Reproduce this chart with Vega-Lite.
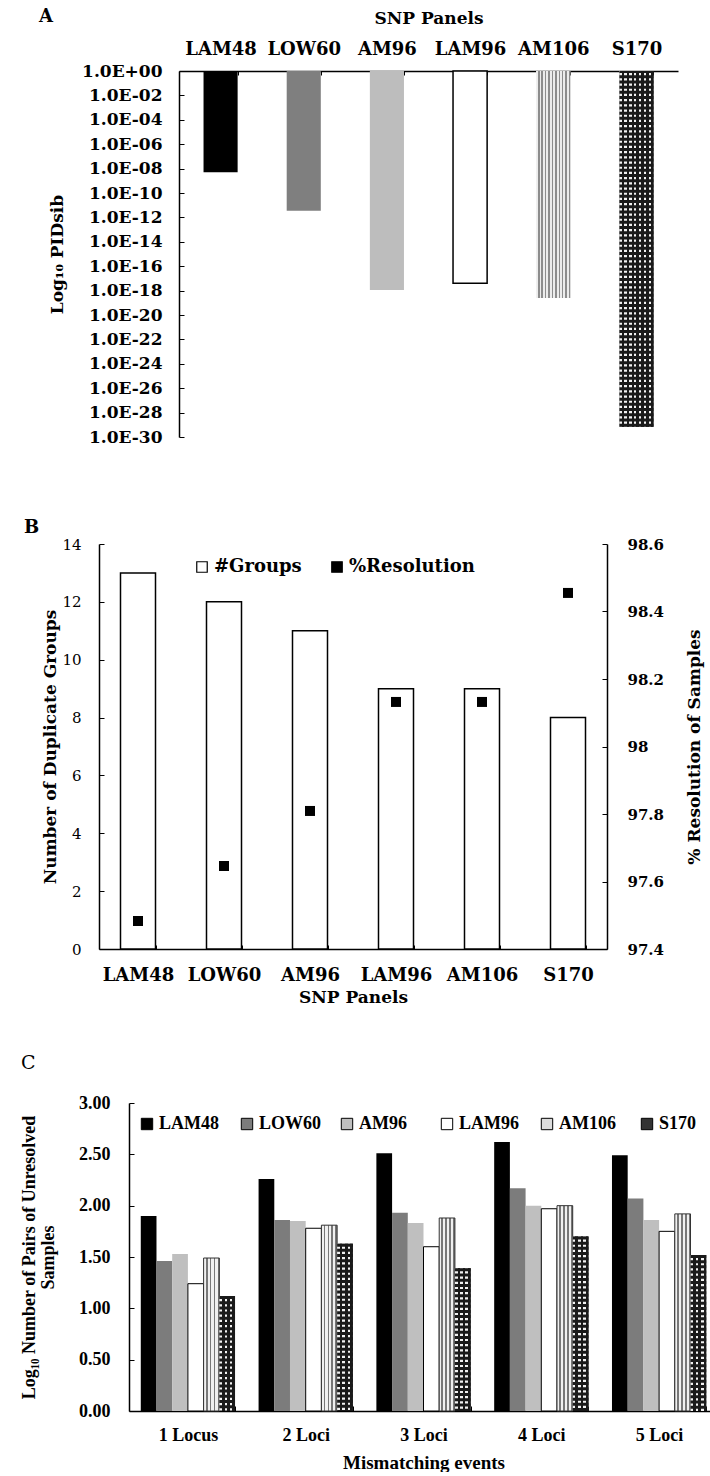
{
  "$schema": "https://vega.github.io/schema/vega-lite/v6.json",
  "padding": {"left": 20, "top": 8, "right": 0, "bottom": 0},
  "background": "white",
  "config": {
    "view": {"stroke": null},
    "axis": {"labelColor": "black", "titleColor": "black", "domainColor": "black", "tickColor": "black", "grid": false}
  },
  "spacing": 74,
  "resolve": {"scale": {"color": "independent"}, "legend": {"color": "independent"}},
  "vconcat": [
    {
      "width": 499,
      "height": 366,
      "title": {"text": "A", "anchor": "start", "frame": "group", "dx": -140, "dy": 17, "offset": 0, "font": "DejaVu Serif", "fontSize": 18, "fontWeight": "bold", "color": "black"},
      "data": {"values": [
        {"panel": "LAM48", "log10_pid": -8.3},
        {"panel": "LOW60", "log10_pid": -11.45},
        {"panel": "AM96", "log10_pid": -17.95},
        {"panel": "LAM96", "log10_pid": -17.4},
        {"panel": "AM106", "log10_pid": -18.6},
        {"panel": "S170", "log10_pid": -29.15}
      ]},
      "encoding": {
        "x": {
          "field": "panel", "type": "nominal",
          "scale": {"domain": ["LAM48", "LOW60", "AM96", "LAM96", "AM106", "S170"], "paddingInner": 0.59, "paddingOuter": 0.295},
          "axis": {"orient": "top", "title": "SNP Panels", "labelAngle": 0, "labelFont": "DejaVu Serif", "labelFontSize": 18, "labelFontWeight": "bold", "labelPadding": 17, "titleFont": "DejaVu Serif", "titleFontSize": 17, "titleFontWeight": "bold", "titlePadding": 13, "domainWidth": 1.5, "tickBand": "extent", "tickSize": -4, "tickWidth": 1}
        },
        "y": {
          "field": "log10_pid", "type": "quantitative",
          "scale": {"domain": [-30, 0], "nice": false},
          "axis": {"title": "Log₁₀ PIDsib", "values": [0, -2, -4, -6, -8, -10, -12, -14, -16, -18, -20, -22, -24, -26, -28, -30],
            "labelExpr": "datum.value == 0 ? '1.0E+00' : '1.0E-' + (datum.value > -10 ? '0' : '') + (-datum.value)",
            "labelFont": "DejaVu Serif", "labelFontSize": 17, "labelFontWeight": "bold", "labelPadding": 22, "tickSize": -5, "domainWidth": 1.5,
            "titleFont": "DejaVu Serif", "titleFontSize": 17, "titleFontWeight": "bold", "titlePadding": 15}
        },
        "y2": {"datum": 0}
      },
      "layer": [
        {"mark": {"type": "bar"},
         "encoding": {"color": {"field": "panel", "type": "nominal", "scale": {"domain": ["LAM48", "LOW60", "AM96", "LAM96", "AM106", "S170"], "range": ["#000000", "#7f7f7f", "#bdbdbd", "#ffffff", "#ffffff", "#333333"]}, "legend": null}}},
        {"transform": [{"filter": "datum.panel === 'LAM96'"}],
         "mark": {"type": "bar", "fill": "white", "stroke": "black", "strokeWidth": 1.5}},
        {"transform": [{"filter": "datum.panel === 'AM106'"}],
         "mark": {"type": "bar", "fill": {"gradient": "linear", "x1": 0, "y1": 0, "x2": 1, "y2": 0, "stops": [
           {"offset": 0, "color": "#ececec"}, {"offset": 0.055, "color": "#ececec"}, {"offset": 0.055, "color": "#8c8c8c"}, {"offset": 0.1, "color": "#8c8c8c"},
           {"offset": 0.1, "color": "#ececec"}, {"offset": 0.155, "color": "#ececec"}, {"offset": 0.155, "color": "#8c8c8c"}, {"offset": 0.2, "color": "#8c8c8c"},
           {"offset": 0.2, "color": "#ececec"}, {"offset": 0.255, "color": "#ececec"}, {"offset": 0.255, "color": "#8c8c8c"}, {"offset": 0.3, "color": "#8c8c8c"},
           {"offset": 0.3, "color": "#ececec"}, {"offset": 0.355, "color": "#ececec"}, {"offset": 0.355, "color": "#8c8c8c"}, {"offset": 0.4, "color": "#8c8c8c"},
           {"offset": 0.4, "color": "#ececec"}, {"offset": 0.455, "color": "#ececec"}, {"offset": 0.455, "color": "#8c8c8c"}, {"offset": 0.5, "color": "#8c8c8c"},
           {"offset": 0.5, "color": "#ececec"}, {"offset": 0.555, "color": "#ececec"}, {"offset": 0.555, "color": "#8c8c8c"}, {"offset": 0.6, "color": "#8c8c8c"},
           {"offset": 0.6, "color": "#ececec"}, {"offset": 0.655, "color": "#ececec"}, {"offset": 0.655, "color": "#8c8c8c"}, {"offset": 0.7, "color": "#8c8c8c"},
           {"offset": 0.7, "color": "#ececec"}, {"offset": 0.755, "color": "#ececec"}, {"offset": 0.755, "color": "#8c8c8c"}, {"offset": 0.8, "color": "#8c8c8c"},
           {"offset": 0.8, "color": "#ececec"}, {"offset": 0.855, "color": "#ececec"}, {"offset": 0.855, "color": "#8c8c8c"}, {"offset": 0.9, "color": "#8c8c8c"},
           {"offset": 0.9, "color": "#ececec"}, {"offset": 0.955, "color": "#ececec"}, {"offset": 0.955, "color": "#8c8c8c"}, {"offset": 1, "color": "#8c8c8c"}
         ]}}},
        {"transform": [{"filter": "datum.panel === 'S170'"}],
         "mark": {"type": "bar", "fill": {"gradient": "linear", "x1": 0, "y1": 0, "x2": 1, "y2": 0, "stops": [
           {"offset": 0, "color": "#f2f2f2"}, {"offset": 0.0714, "color": "#f2f2f2"}, {"offset": 0.0714, "color": "#1a1a1a"}, {"offset": 0.1429, "color": "#1a1a1a"},
           {"offset": 0.1429, "color": "#f2f2f2"}, {"offset": 0.2143, "color": "#f2f2f2"}, {"offset": 0.2143, "color": "#1a1a1a"}, {"offset": 0.2857, "color": "#1a1a1a"},
           {"offset": 0.2857, "color": "#f2f2f2"}, {"offset": 0.3571, "color": "#f2f2f2"}, {"offset": 0.3571, "color": "#1a1a1a"}, {"offset": 0.4286, "color": "#1a1a1a"},
           {"offset": 0.4286, "color": "#f2f2f2"}, {"offset": 0.5, "color": "#f2f2f2"}, {"offset": 0.5, "color": "#1a1a1a"}, {"offset": 0.5714, "color": "#1a1a1a"},
           {"offset": 0.5714, "color": "#f2f2f2"}, {"offset": 0.6429, "color": "#f2f2f2"}, {"offset": 0.6429, "color": "#1a1a1a"}, {"offset": 0.7143, "color": "#1a1a1a"},
           {"offset": 0.7143, "color": "#f2f2f2"}, {"offset": 0.7857, "color": "#f2f2f2"}, {"offset": 0.7857, "color": "#1a1a1a"}, {"offset": 0.8571, "color": "#1a1a1a"},
           {"offset": 0.8571, "color": "#f2f2f2"}, {"offset": 0.9286, "color": "#f2f2f2"}, {"offset": 0.9286, "color": "#1a1a1a"}, {"offset": 1, "color": "#1a1a1a"}
         ]}}},
        {"transform": [{"filter": "datum.panel === 'S170'"}],
         "mark": {"type": "rule", "strokeWidth": 34, "strokeDash": [3, 2.2], "strokeCap": "butt", "color": "#1a1a1a"}}
      ]
    },
    {
      "spacing": 49,
      "resolve": {"scale": {"color": "independent"}, "legend": {"color": "independent"}},
      "vconcat": [
        {
          "width": 428,
          "height": 405,
          "title": {"text": "B", "anchor": "start", "frame": "group", "dx": -155, "offset": 0, "font": "DejaVu Serif", "fontSize": 18, "fontWeight": "bold", "color": "black"},
          "data": {"values": [
            {"panel": "LAM48", "groups": 13, "resolution": 97.483},
            {"panel": "LOW60", "groups": 12, "resolution": 97.646},
            {"panel": "AM96", "groups": 11, "resolution": 97.809},
            {"panel": "LAM96", "groups": 9, "resolution": 98.132},
            {"panel": "AM106", "groups": 9, "resolution": 98.132},
            {"panel": "S170", "groups": 8, "resolution": 98.455}
          ]},
          "encoding": {
            "x": {
              "field": "panel", "type": "nominal",
              "scale": {"domain": ["LAM48", "LOW60", "AM96", "LAM96", "AM106", "S170"], "range": [-80, 428], "paddingInner": 0.593, "paddingOuter": 0.25},
              "axis": {"title": "SNP Panels", "labelAngle": 0, "labelFont": "DejaVu Serif", "labelFontSize": 18, "labelFontWeight": "bold", "labelPadding": 21, "titleFont": "DejaVu Serif", "titleFontSize": 17, "titleFontWeight": "bold", "titlePadding": 5, "domainWidth": 1.5, "tickBand": "extent", "tickSize": -4}
            }
          },
          "layer": [
            {"mark": {"type": "bar", "stroke": "black", "strokeWidth": 1.5},
             "encoding": {
               "y": {"field": "groups", "type": "quantitative", "scale": {"domain": [0, 14], "nice": false},
                 "axis": {"title": "Number of Duplicate Groups", "offset": 80, "values": [0, 2, 4, 6, 8, 10, 12, 14], "labelFont": "DejaVu Serif", "labelFontSize": 15, "labelFontWeight": "normal", "labelPadding": 23, "tickSize": -5, "domainWidth": 1.5, "titleFont": "DejaVu Serif", "titleFontSize": 17, "titleFontWeight": "bold", "titlePadding": 2}},
               "color": {"datum": "#Groups", "type": "nominal",
                 "scale": {"domain": ["#Groups", "%Resolution"], "range": ["#ffffff", "#000000"]},
                 "legend": {"orient": "none", "legendX": 14, "legendY": 14, "direction": "horizontal", "title": null, "symbolType": "square", "symbolSize": 110, "symbolStrokeColor": "black", "symbolStrokeWidth": 1.2, "symbolOpacity": 1, "labelFont": "DejaVu Serif", "labelFontSize": 18, "labelFontWeight": "bold", "labelColor": "black", "labelOffset": 3, "columnPadding": 26}}
             }},
            {"mark": {"type": "point", "shape": "square", "filled": true, "size": 100, "opacity": 1},
             "encoding": {
               "y": {"field": "resolution", "type": "quantitative", "scale": {"domain": [97.4, 98.6], "nice": false, "zero": false},
                 "axis": {"orient": "right", "title": "% Resolution of Samples", "values": [97.4, 97.6, 97.8, 98, 98.2, 98.4, 98.6], "format": "~g", "labelFont": "DejaVu Serif", "labelFontSize": 15, "labelFontWeight": "bold", "labelPadding": 25, "tickSize": -5, "domainWidth": 1.5, "titleFont": "DejaVu Serif", "titleFontSize": 17, "titleFontWeight": "bold", "titlePadding": 40, "titleAngle": 270}},
               "color": {"datum": "%Resolution", "type": "nominal"}
             }}
          ],
          "resolve": {"scale": {"y": "independent"}}
        },
        {
          "width": 539,
          "height": 308,
          "title": {"text": "C", "anchor": "start", "frame": "group", "dx": -158, "offset": 21, "font": "DejaVu Serif", "fontSize": 19, "fontWeight": "normal", "color": "black"},
          "data": {"values": [
            {"event": "1 Locus", "panel": "LAM48", "value": 1.90},
            {"event": "1 Locus", "panel": "LOW60", "value": 1.46},
            {"event": "1 Locus", "panel": "AM96", "value": 1.53},
            {"event": "1 Locus", "panel": "LAM96", "value": 1.24},
            {"event": "1 Locus", "panel": "AM106", "value": 1.49},
            {"event": "1 Locus", "panel": "S170", "value": 1.12},
            {"event": "2 Loci", "panel": "LAM48", "value": 2.26},
            {"event": "2 Loci", "panel": "LOW60", "value": 1.86},
            {"event": "2 Loci", "panel": "AM96", "value": 1.85},
            {"event": "2 Loci", "panel": "LAM96", "value": 1.78},
            {"event": "2 Loci", "panel": "AM106", "value": 1.81},
            {"event": "2 Loci", "panel": "S170", "value": 1.63},
            {"event": "3 Loci", "panel": "LAM48", "value": 2.51},
            {"event": "3 Loci", "panel": "LOW60", "value": 1.93},
            {"event": "3 Loci", "panel": "AM96", "value": 1.83},
            {"event": "3 Loci", "panel": "LAM96", "value": 1.60},
            {"event": "3 Loci", "panel": "AM106", "value": 1.88},
            {"event": "3 Loci", "panel": "S170", "value": 1.39},
            {"event": "4 Loci", "panel": "LAM48", "value": 2.62},
            {"event": "4 Loci", "panel": "LOW60", "value": 2.17},
            {"event": "4 Loci", "panel": "AM96", "value": 2.00},
            {"event": "4 Loci", "panel": "LAM96", "value": 1.97},
            {"event": "4 Loci", "panel": "AM106", "value": 2.00},
            {"event": "4 Loci", "panel": "S170", "value": 1.70},
            {"event": "5 Loci", "panel": "LAM48", "value": 2.49},
            {"event": "5 Loci", "panel": "LOW60", "value": 2.07},
            {"event": "5 Loci", "panel": "AM96", "value": 1.86},
            {"event": "5 Loci", "panel": "LAM96", "value": 1.75},
            {"event": "5 Loci", "panel": "AM106", "value": 1.92},
            {"event": "5 Loci", "panel": "S170", "value": 1.52}
          ]},
          "encoding": {
            "x": {
              "field": "event", "type": "nominal",
              "scale": {"domain": ["1 Locus", "2 Loci", "3 Loci", "4 Loci", "5 Loci"], "range": [-50, 539], "paddingInner": 0.2, "paddingOuter": 0.1},
              "axis": {"title": "Mismatching events", "labelAngle": 0, "labelFont": "Liberation Serif", "labelFontSize": 18, "labelFontWeight": "bold", "labelPadding": 20, "titleFont": "Liberation Serif", "titleFontSize": 19, "titleFontWeight": "bold", "titlePadding": 9, "domainWidth": 1.5, "tickBand": "extent", "tickSize": -5}
            },
            "xOffset": {"field": "panel", "type": "nominal", "scale": {"domain": ["LAM48", "LOW60", "AM96", "LAM96", "AM106", "S170"], "paddingInner": 0, "paddingOuter": 0}},
            "y": {
              "field": "value", "type": "quantitative",
              "scale": {"domain": [0, 3], "nice": false},
              "axis": {"title": ["Log₁₀ Number of Pairs of Unresolved", "Samples"], "offset": 50, "values": [0, 0.5, 1, 1.5, 2, 2.5, 3], "format": ".2f", "labelFont": "Liberation Serif", "labelFontSize": 18, "labelFontWeight": "bold", "labelPadding": 24, "tickSize": -5, "domainWidth": 1.5, "titleFont": "Liberation Serif", "titleFontSize": 18, "titleFontWeight": "bold", "titleLineHeight": 19, "titlePadding": 21}
            }
          },
          "layer": [
            {"mark": {"type": "bar"},
             "encoding": {"color": {"field": "panel", "type": "nominal",
               "scale": {"domain": ["LAM48", "LOW60", "AM96", "LAM96", "AM106", "S170"], "range": ["#000000", "#7c7c7c", "#bfbfbf", "#ffffff", "#dcdcdc", "#333333"]},
               "legend": {"orient": "none", "legendX": -41, "legendY": 12, "direction": "horizontal", "columns": 6, "gridAlign": "all", "title": null, "symbolType": "square", "symbolSize": 130, "symbolStrokeColor": "black", "symbolStrokeWidth": 1, "symbolOpacity": 1, "labelFont": "Liberation Serif", "labelFontSize": 18, "labelFontWeight": "bold", "labelColor": "black", "labelOffset": 3, "columnPadding": 16}}}},
            {"transform": [{"filter": "datum.panel === 'LAM96'"}],
             "mark": {"type": "bar", "fill": "white", "stroke": "black", "strokeWidth": 1}},
            {"transform": [{"filter": "datum.panel === 'AM106'"}],
             "mark": {"type": "bar", "stroke": "#333333", "strokeWidth": 1, "fill": {"gradient": "linear", "x1": 0, "y1": 0, "x2": 1, "y2": 0, "stops": [
               {"offset": 0, "color": "#f0f0f0"}, {"offset": 0.14, "color": "#f0f0f0"}, {"offset": 0.14, "color": "#777777"}, {"offset": 0.25, "color": "#777777"},
               {"offset": 0.25, "color": "#f0f0f0"}, {"offset": 0.39, "color": "#f0f0f0"}, {"offset": 0.39, "color": "#777777"}, {"offset": 0.5, "color": "#777777"},
               {"offset": 0.5, "color": "#f0f0f0"}, {"offset": 0.64, "color": "#f0f0f0"}, {"offset": 0.64, "color": "#777777"}, {"offset": 0.75, "color": "#777777"},
               {"offset": 0.75, "color": "#f0f0f0"}, {"offset": 0.89, "color": "#f0f0f0"}, {"offset": 0.89, "color": "#777777"}, {"offset": 1, "color": "#777777"}
             ]}}},
            {"transform": [{"filter": "datum.panel === 'S170'"}],
             "mark": {"type": "bar", "fill": {"gradient": "linear", "x1": 0, "y1": 0, "x2": 1, "y2": 0, "stops": [
               {"offset": 0, "color": "#f2f2f2"}, {"offset": 0.1667, "color": "#f2f2f2"}, {"offset": 0.1667, "color": "#1a1a1a"}, {"offset": 0.3333, "color": "#1a1a1a"},
               {"offset": 0.3333, "color": "#f2f2f2"}, {"offset": 0.5, "color": "#f2f2f2"}, {"offset": 0.5, "color": "#1a1a1a"}, {"offset": 0.6667, "color": "#1a1a1a"},
               {"offset": 0.6667, "color": "#f2f2f2"}, {"offset": 0.8333, "color": "#f2f2f2"}, {"offset": 0.8333, "color": "#1a1a1a"}, {"offset": 1, "color": "#1a1a1a"}
             ]}}},
            {"transform": [{"filter": "datum.panel === 'S170'"}],
             "mark": {"type": "rule", "strokeWidth": 15.7, "strokeDash": [3, 2.2], "strokeCap": "butt", "color": "#1a1a1a"},
             "encoding": {"y2": {"datum": 0}}}
          ]
        }
      ]
    }
  ]
}
